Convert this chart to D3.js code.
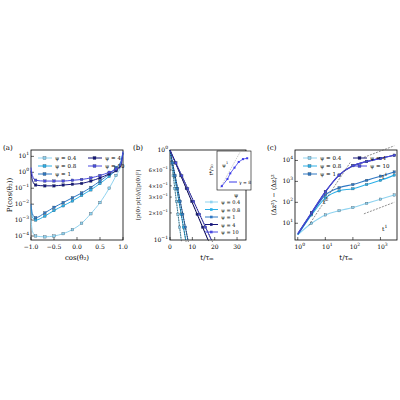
<!DOCTYPE html><html><head><script src="https://cdn.jsdelivr.net/npm/d3@7"></script>
<style>body{margin:0;background:#fff}text{font-family:"DejaVu Serif",serif}</style></head><body><svg width="400" height="400"></svg>
<script>
const psis=["0.4","0.8","1","4","10"];
const colors=["#8fd3f0","#2bb0e8","#2f78c4","#15157a","#4a4ae0"];
// panel a: cos(theta) vs log10 P
const aX=[-1,-0.97,-0.9,-0.7,-0.5,-0.3,-0.1,0.1,0.3,0.5,0.7,0.85,0.95,1];
const aY=[
[-3.0,-3.7,-4.0,-4.05,-4.0,-3.85,-3.6,-3.2,-2.6,-1.9,-1.0,-0.2,0.4,1.1],
[-2.2,-2.8,-3.0,-2.75,-2.4,-2.1,-1.8,-1.45,-1.1,-0.7,-0.25,0.15,0.55,1.2],
[-2.0,-2.6,-2.85,-2.55,-2.2,-1.9,-1.6,-1.3,-0.95,-0.55,-0.1,0.3,0.65,1.3],
[0.1,-0.5,-0.8,-0.85,-0.85,-0.8,-0.75,-0.7,-0.55,-0.35,-0.1,0.1,0.4,1.2],
[0.3,-0.2,-0.5,-0.55,-0.55,-0.55,-0.5,-0.45,-0.35,-0.2,0.0,0.2,0.5,1.3]];
// panel b: decay times (t where value reaches 0.1)
const bT=[5,7,8,17,18.5];
// panel c: log10 t vs log10 MSD
const cX=[0,0.5,1,1.5,2,2.5,3,3.5];
const cY=[
[0.45,1.0,1.4,1.6,1.75,1.95,2.15,2.35],
[0.45,1.4,2.2,2.55,2.65,2.85,3.05,3.3],
[0.45,1.45,2.35,2.7,2.85,3.05,3.25,3.45],
[0.5,1.5,2.5,3.3,3.75,3.95,4.1,4.25],
[0.5,1.5,2.5,3.3,3.75,3.95,4.1,4.25]];
const insX=[0.3,0.5,0.6,0.75,0.9,1.05,1.2];
const insY=[0.1,0.35,0.55,0.75,0.95,1.05,1.08];
const svg=d3.select("svg");
const fs=6;
function sup(g,x,y,base,ex,anchor,f){f=f||fs;const t=g.append("text").attr("x",x).attr("y",y).attr("font-size",f).attr("text-anchor",anchor||"end");t.append("tspan").text(base);t.append("tspan").attr("dy",-3).attr("font-size",f*0.75).text(ex);return t;}
function legend(g,x0,y0){psis.forEach((p,i)=>{const c=i<3?0:1,r=i<3?i:i-3;const x=x0+c*50,y=y0+r*8;
g.append("line").attr("x1",x).attr("x2",x+14).attr("y1",y).attr("y2",y).attr("stroke",colors[i]);
g.append("rect").attr("x",x+5).attr("y",y-1.5).attr("width",3).attr("height",3).attr("fill",colors[i]).attr("stroke","#345").attr("stroke-width",0.3);
g.append("text").attr("x",x+17).attr("y",y+2).attr("font-size",5.5).text("ψ = "+p);});}
function frame(g,x0,x1,y0,y1){g.append("rect").attr("x",x0).attr("y",y0).attr("width",x1-x0).attr("height",y1-y0).attr("fill","none").attr("stroke","#000").attr("stroke-width",0.8);}
// ---- A
{const g=svg.append("g");const x=d3.scaleLinear([-1,1],[31,123]);const y=d3.scaleLinear([-4.25,1.4],[240,150]);
frame(g,31,123,150,240);
[-1,-0.5,0,0.5,1].forEach(v=>{g.append("line").attr("x1",x(v)).attr("x2",x(v)).attr("y1",240).attr("y2",237).attr("stroke","#000").attr("stroke-width",0.6);g.append("text").attr("x",x(v)).attr("y",249).attr("font-size",fs).attr("text-anchor","middle").text(d3.format(".1f")(v).replace("-","−"));});
[-4,-3,-2,-1,0,1].forEach(v=>{g.append("line").attr("x1",31).attr("x2",34).attr("y1",y(v)).attr("y2",y(v)).attr("stroke","#000").attr("stroke-width",0.6);sup(g,29,y(v)+2,"10",v<0?"−"+(-v):v);});
const ln=d3.line().x((d,i)=>x(aX[i])).y(d=>y(d)).curve(d3.curveMonotoneX);
aY.forEach((s,k)=>{g.append("path").attr("d",ln(s)).attr("fill","none").attr("stroke",colors[k]).attr("stroke-width",1);
s.forEach((d,i)=>{if(i>1&&i<12)g.append("rect").attr("x",x(aX[i])-1.3).attr("y",y(d)-1.3).attr("width",2.6).attr("height",2.6).attr("fill",colors[k]).attr("stroke","#345").attr("stroke-width",0.3);});});
legend(g,38,158);
g.append("text").attr("x",77).attr("y",260).attr("font-size",7).attr("text-anchor","middle").text("cos(θ₂)");
g.append("text").attr("transform","translate(12,195) rotate(-90)").attr("font-size",7).attr("text-anchor","middle").text("P(cos(θ₂))");
g.append("text").attr("x",3).attr("y",150).attr("font-size",7).text("(a)");}
// ---- B
{const g=svg.append("g");const x=d3.scaleLinear([0,34],[170,246]);const y=d3.scaleLog([0.1,1],[240,150]);
frame(g,170,246,150,240);
[0,10,20,30].forEach(v=>{g.append("line").attr("x1",x(v)).attr("x2",x(v)).attr("y1",240).attr("y2",237).attr("stroke","#000").attr("stroke-width",0.6);g.append("text").attr("x",x(v)).attr("y",249).attr("font-size",fs).attr("text-anchor","middle").text(v);});
sup(g,168,y(1)+2,"10","0");sup(g,168,y(0.1)+2,"10","−1");
[0.6,0.4,0.3,0.2].forEach(v=>{g.append("line").attr("x1",170).attr("x2",172).attr("y1",y(v)).attr("y2",y(v)).attr("stroke","#000").attr("stroke-width",0.5);sup(g,168,y(v)+2,(v*10)+"×10","−1","end",5);});
bT.forEach((T,k)=>{g.append("line").attr("x1",x(0)).attr("y1",y(1)).attr("x2",x(T)).attr("y2",y(0.1)).attr("stroke",colors[k]).attr("stroke-width",1);
g.append("line").attr("x1",x(0)).attr("y1",y(1)).attr("x2",x(T*1.03)).attr("y2",y(0.095)).attr("stroke","#000").attr("stroke-width",0.5).attr("stroke-dasharray","1.5,1");
for(let j=1;j<7;j++){const t=T*j/7;const v=Math.pow(10,-t/T);g.append("rect").attr("x",x(t)-1.2).attr("y",y(v)-1.2).attr("width",2.4).attr("height",2.4).attr("fill",colors[k]).attr("stroke","#345").attr("stroke-width",0.3);}});
psis.forEach((p,i)=>{const yy=202+i*7.5;g.append("line").attr("x1",205).attr("x2",218).attr("y1",yy).attr("y2",yy).attr("stroke",colors[i]);g.append("rect").attr("x",210).attr("y",yy-1.3).attr("width",2.6).attr("height",2.6).attr("fill",colors[i]);g.append("text").attr("x",221).attr("y",yy+2).attr("font-size",5).text("ψ = "+p);});
// inset
const ix=d3.scaleLinear([0.2,1.3],[219,250]);const iy=d3.scaleLinear([0,1.3],[189,152]);
g.append("rect").attr("x",217).attr("y",151).attr("width",34).attr("height",39).attr("fill","#fff").attr("stroke","#000").attr("stroke-width",0.6);
g.append("line").attr("x1",ix(0.25)).attr("y1",iy(0.05)).attr("x2",ix(0.95)).attr("y2",iy(1.3)).attr("stroke","#999").attr("stroke-width",0.5).attr("stroke-dasharray","1.5,1");
g.append("path").attr("d",d3.line().x((d,i)=>ix(insX[i])).y(d=>iy(d))(insY)).attr("fill","none").attr("stroke","#3a3ae8").attr("stroke-width",0.8);
insY.forEach((d,i)=>g.append("rect").attr("x",ix(insX[i])-1).attr("y",iy(d)-1).attr("width",2).attr("height",2).attr("fill","#3a3ae8"));
g.append("line").attr("x1",229).attr("x2",237).attr("y1",182).attr("y2",182).attr("stroke","#3a3ae8");g.append("text").attr("x",239).attr("y",184).attr("font-size",4.5).text("γ = 8");
g.append("text").attr("x",222).attr("y",167).attr("font-size",5).text("ψ");g.append("text").attr("x",226).attr("y",164).attr("font-size",3.5).text("1");
g.append("text").attr("x",234).attr("y",197).attr("font-size",5.5).text("ψ");
g.append("text").attr("transform","translate(213,170) rotate(-90)").attr("font-size",5).attr("text-anchor","middle").text("t*/τ₀");
g.append("text").attr("x",207).attr("y",260).attr("font-size",7).attr("text-anchor","middle").text("t/τₘ");
g.append("text").attr("transform","translate(140,195) rotate(-90)").attr("font-size",5.5).attr("text-anchor","middle").text("⟨p(0)·p(t)⟩/⟨|p(0)|²⟩");
g.append("text").attr("x",133).attr("y",150).attr("font-size",7).text("(b)");}
// ---- C
{const g=svg.append("g");const x=d3.scaleLinear([-0.1,3.6],[295,397]);const y=d3.scaleLinear([0.2,4.5],[240,150]);
frame(g,295,397,150,240);
[0,1,2,3].forEach(v=>{g.append("line").attr("x1",x(v)).attr("x2",x(v)).attr("y1",240).attr("y2",237).attr("stroke","#000").attr("stroke-width",0.6);sup(g,x(v)+2,249,"10",v,"middle");});
[1,2,3,4].forEach(v=>{g.append("line").attr("x1",295).attr("x2",298).attr("y1",y(v)).attr("y2",y(v)).attr("stroke","#000").attr("stroke-width",0.6);sup(g,293,y(v)+2,"10",v);});
const ln=d3.line().x((d,i)=>x(cX[i])).y(d=>y(d)).curve(d3.curveMonotoneX);
cY.forEach((s,k)=>{g.append("path").attr("d",ln(s)).attr("fill","none").attr("stroke",colors[k]).attr("stroke-width",1.1);
s.forEach((d,i)=>{if(i>0)g.append("rect").attr("x",x(cX[i])-1.2).attr("y",y(d)-1.2).attr("width",2.4).attr("height",2.4).attr("fill",colors[k]).attr("stroke","#345").attr("stroke-width",0.3);});});
const dl=(a,b,c,d)=>g.append("line").attr("x1",x(a)).attr("y1",y(b)).attr("x2",x(c)).attr("y2",y(d)).attr("stroke","#444").attr("stroke-width",0.6).attr("stroke-dasharray","2,1.2");
dl(0.4,0.9,1.9,3.9);dl(2.4,4.15,3.5,4.7);dl(2.4,1.45,3.5,2.0);
sup(g,323,204,"t","2","start");sup(g,382,179,"t","1","start");sup(g,382,231,"t","1","start");
legend(g,303,158);
g.append("text").attr("x",346).attr("y",260).attr("font-size",7).attr("text-anchor","middle").text("t/τₘ");
g.append("text").attr("transform","translate(276,195) rotate(-90)").attr("font-size",6.5).attr("text-anchor","middle").text("⟨Δz²⟩ − ⟨Δz⟩²");
g.append("text").attr("x",267).attr("y",150).attr("font-size",7).text("(c)");}
</script></body></html>
